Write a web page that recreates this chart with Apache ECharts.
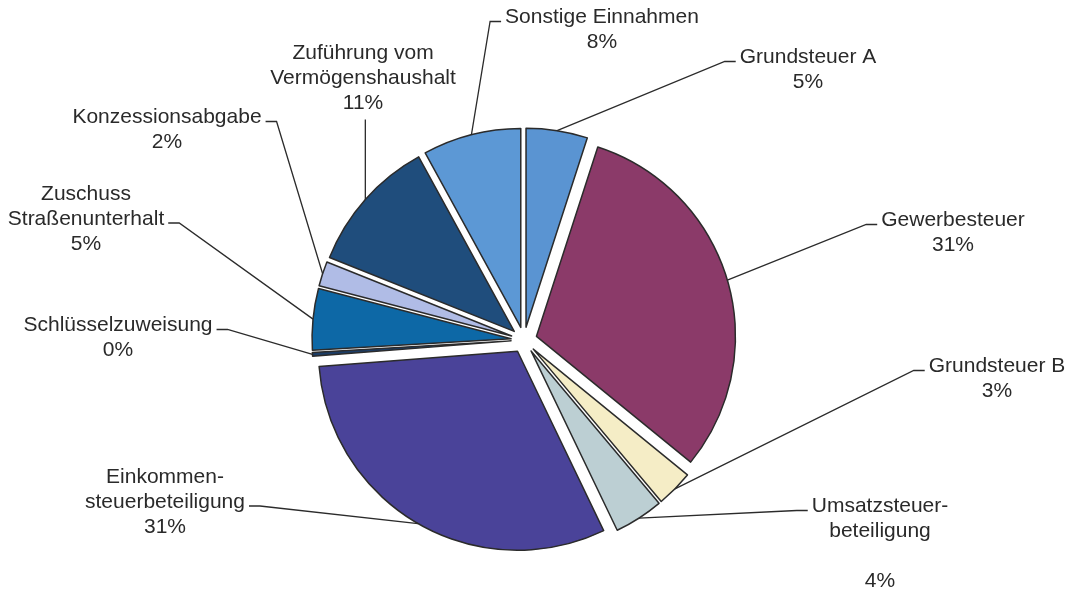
<!DOCTYPE html>
<html>
<head>
<meta charset="utf-8">
<script src="https://cdn.jsdelivr.net/npm/echarts@6/dist/echarts.min.js"></script>
<style>
  html, body { margin: 0; padding: 0; background: #fff; }
  #chart { width: 1078px; height: 593px; }
</style>
</head>
<body>
<div id="chart"></div>
<script>
const categories = ["Grundsteuer A", "Gewerbesteuer", "Grundsteuer B", "Umsatzsteuerbeteiligung", "Einkommensteuerbeteiligung", "Schlüsselzuweisung", "Zuschuss Straßenunterhalt", "Konzessionsabgabe", "Zuführung vom Vermögenshaushalt", "Sonstige Einnahmen"];
const labelNames = ["Grundsteuer A", "Gewerbesteuer", "Grundsteuer B", "Umsatzsteuer-\nbeteiligung\n", "Einkommen-\nsteuerbeteiligung", "Schlüsselzuweisung", "Zuschuss\nStraßenunterhalt", "Konzessionsabgabe", "Zuführung vom\nVermögenshaushalt", "Sonstige Einnahmen"];
const values = [5, 31, 3, 4, 31, 0.3, 5, 2, 11, 8];

const colors = ["#5a94d2", "#8b3a69", "#f5edc6", "#bccfd3", "#4a4399", "#1c3d66", "#0d68a6", "#b0bce6", "#1f4d7c", "#5c98d5"];
// label block centres in px, and where the leader line meets the text: side + line index
const labelPos = [[808, 70], [953, 233], [997, 379], [880, 544], [165, 502], [118, 338], [86, 219], [167, 130], [363, 78], [602, 30]];
const labelAttach = [["left", 0], ["left", 0], ["left", 0], ["left", 0], ["right", 1], ["right", 0], ["right", 1], ["right", 0], ["bottom", 0], ["left", 0]];

const center = [524, 340];
const radius = 199;
const explode = 13;
const lineH = 25;

function leader(p) {
  const [cx, cy] = labelPos[p.dataIndex];
  const [side, k] = labelAttach[p.dataIndex];
  const w = p.labelRect.width, h = p.labelRect.height;
  const start = p.labelLinePoints[0];
  let pts;
  if (side === "bottom") {
    pts = [start, [start[0], cy + h / 2 + 4]];
  } else {
    const y = cy - h / 2 + lineH * (k + 0.5) + 4;
    const ex = side === "left" ? cx - w / 2 - 4 : cx + w / 2 + 4;
    const bx = side === "left" ? ex - 11 : ex + 11;
    pts = [start, [bx, y], [ex, y]];
  }
  return { x: cx, y: cy, align: "center", verticalAlign: "middle", hideOverlap: false, labelLinePoints: pts };
}

const chart = echarts.init(document.getElementById("chart"));
chart.setOption({
  animation: false,
  backgroundColor: "#ffffff",
  series: [{
    // exploded slices
    type: "pie",
    center,
    radius,
    startAngle: 90,
    clockwise: true,
    selectedMode: "multiple",
    selectedOffset: explode,
    emphasis: { disabled: true },
    label: { show: false },
    labelLine: { show: false },
    itemStyle: { borderColor: "#2b2b2b", borderWidth: 1.5 },
    data: categories.map((name, i) => ({ name, value: values[i], selected: true, itemStyle: { color: colors[i] } }))
  }, {
    // invisible twin that carries the labels and leader lines
    type: "pie",
    center,
    radius: radius + explode,
    startAngle: 90,
    clockwise: true,
    silent: true,
    z: 3,
    avoidLabelOverlap: false,
    emphasis: { disabled: true },
    itemStyle: { color: "rgba(0,0,0,0)", borderWidth: 0 },
    label: {
      show: true,
      position: "outside",
      fontFamily: "Liberation Sans, Arial, sans-serif",
      fontSize: 21,
      lineHeight: lineH,
      color: "#2a2a2a",
      align: "center",
      formatter: p => labelNames[p.dataIndex] + "\n" + Math.round(p.percent) + "%"
    },
    labelLine: { show: true, length: 20, length2: 10, lineStyle: { color: "#2b2b2b", width: 1.3 } },
    labelLayout: leader,
    data: categories.map((name, i) => ({ name, value: values[i] }))
  }]
});
</script>
</body>
</html>
